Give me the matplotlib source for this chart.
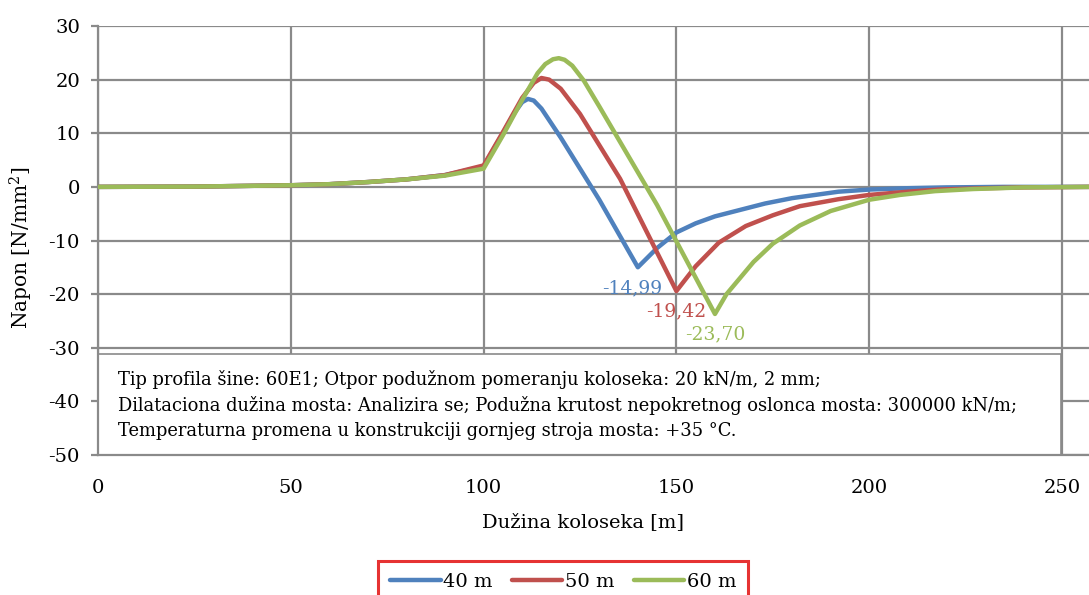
import matplotlib
matplotlib.use('Agg')

import numpy as np
import matplotlib.pyplot as plt
from matplotlib.patches import Rectangle

# data
x_40 = [0, 25, 50, 60, 70, 80, 90, 100, 105, 108, 110, 111.5, 113, 115, 120, 130, 140,
        145, 150, 155, 160, 166.5, 173, 180, 192, 200, 210, 220, 235, 257]
y_40 = [0, 0.05, 0.3, 0.5, 0.9, 1.4, 2.2, 3.8, 10.0, 13.8, 15.8, 16.4, 16.1, 14.6, 9.2, -2.4, -14.99,
        -11.4, -8.5, -6.8, -5.5, -4.3, -3.1, -2.1, -0.9, -0.5, -0.25, -0.1, 0, 0]

x_50 = [0, 25, 50, 60, 70, 80, 90, 100, 105, 110, 113, 115, 117, 120, 125, 135.4, 150,
        155, 161, 168, 175, 182, 192, 200, 210, 218, 230, 240, 257]
y_50 = [0, 0.05, 0.3, 0.5, 0.9, 1.4, 2.2, 4.0, 10.2, 16.6, 19.4, 20.3, 20.0, 18.3, 13.6, 1.5, -19.42,
        -14.8, -10.4, -7.3, -5.3, -3.6, -2.3, -1.5, -0.9, -0.5, -0.25, -0.1, 0]

x_60 = [0, 25, 50, 60, 70, 80, 90, 100, 105, 110, 114, 116, 118, 119.5, 121, 123, 126, 130, 145, 160,
        163, 166.5, 170, 175, 182, 190, 200, 208, 217, 227, 240, 257]
y_60 = [0, 0.05, 0.3, 0.5, 0.9, 1.4, 2.1, 3.4, 9.6, 16.2, 21.2, 22.9, 23.8, 24.0, 23.7, 22.6, 19.8, 15.0, -3.4, -23.70,
        -20.0, -17.0, -14.0, -10.6, -7.2, -4.5, -2.4, -1.5, -0.8, -0.4, -0.1, 0]

series = [('40 m', x_40, y_40, '#4F81BD', '-14,99', -4),
          ('50 m', x_50, y_50, '#C0504D', '-19,42', 0),
          ('60 m', x_60, y_60, '#9BBB59', '-23,70', 0)]

note = ['Tip profila šine: 60E1; Otpor podužnom pomeranju koloseka: 20 kN/m, 2 mm;',
        'Dilataciona dužina mosta: Analizira se; Podužna krutost nepokretnog oslonca mosta: 300000 kN/m;',
        'Temperaturna promena u konstrukciji gornjeg stroja mosta: +35 °C.']

plt.rcParams['font.family'] = 'DejaVu Serif'
plt.rcParams['mathtext.fontset'] = 'dejavuserif'
plt.rcParams['axes.unicode_minus'] = False

W, H = 1089, 595
fig = plt.figure(figsize=(W / 100, H / 100), dpi=100)
ax = fig.add_axes([98 / W, (H - 455) / H, (1089 - 98) / W, (455 - 26) / H])

grid_c = '#8A8A8A'
ax.set_xlim(0, 257)
ax.set_ylim(-50, 30)
ax.set_xticks(range(0, 251, 50))
ax.set_yticks(range(-50, 31, 10))
ax.grid(True, color=grid_c, linewidth=1.6, zorder=0)
for s in ['top', 'right']:
    ax.spines[s].set_visible(False)
for s in ['left', 'bottom']:
    ax.spines[s].set_color(grid_c)
    ax.spines[s].set_linewidth(1.6)
ax.tick_params(axis='y', length=5, width=1.6, color=grid_c, labelsize=14, pad=8)
ax.tick_params(axis='x', length=0, labelsize=14, pad=17)

for lab, xs, ys, col, txt, dx in series:
    ax.plot(xs, ys, color=col, linewidth=3.2, label=lab, zorder=3,
            solid_capstyle='round', solid_joinstyle='round')
    i = int(np.argmin(ys))
    ax.annotate(txt, (xs[i], ys[i]), xytext=(dx, -15), textcoords='offset points',
                ha='center', va='center', color=col, fontsize=13.5, zorder=4)

# note box
box = Rectangle((0.0, -50), 249.7, 18.8, facecolor='white', edgecolor=grid_c,
                linewidth=1.2, zorder=2, clip_on=False)
ax.add_patch(box)
for k, line in enumerate(note):
    ax.text(5.2, -36.0 - k * 4.75, line, fontsize=12.9, va='center', ha='left', zorder=3)

fig.text(583 / W, 1 - 522 / H, 'Dužina koloseka [m]', ha='center', va='center', fontsize=14)
fig.text(21 / W, 1 - 248 / H, 'Napon [N/mm$^2$]', ha='center', va='center',
         rotation=90, fontsize=14.5)

leg = fig.legend(loc='center', bbox_to_anchor=(563 / W, 1 - 582 / H), ncol=3,
                 frameon=True, fontsize=14, handlelength=2.6, columnspacing=1.0,
                 handletextpad=0.12, borderpad=0.6, fancybox=False)
leg.get_frame().set_edgecolor('#E00000')
leg.get_frame().set_linewidth(2.2)

fig.savefig('out.png', dpi=100)
